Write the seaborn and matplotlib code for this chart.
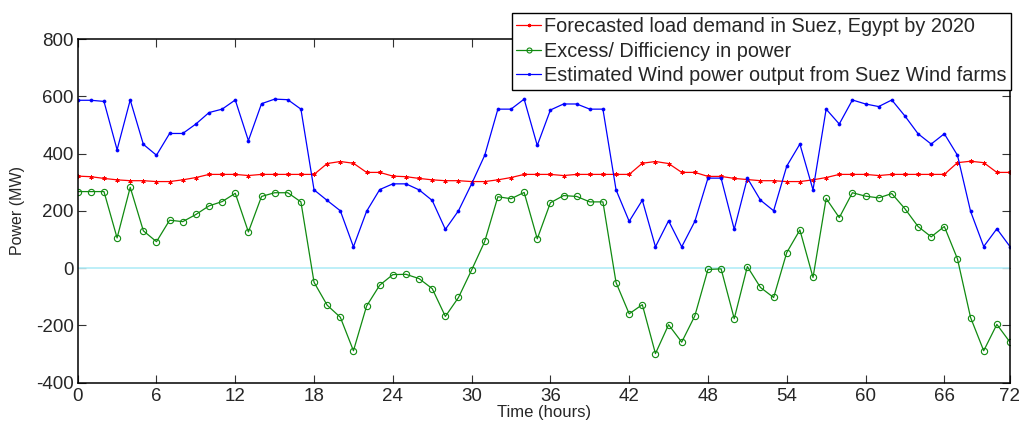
import numpy as np
import pandas as pd
import seaborn as sns
import matplotlib.pyplot as plt

# hourly values (0..71 h)
hours = list(range(72))

load_demand = [321, 319, 313, 308, 305, 305, 302, 302, 308, 316, 327, 327,
               327, 323, 327, 327, 327, 327, 327, 365, 372, 366, 334, 334,
               321, 319, 313, 308, 305, 305, 302, 302, 308, 316, 327, 327,
               327, 323, 327, 327, 327, 327, 327, 366, 372, 365, 334, 334,
               320, 320, 313, 309, 305, 305, 302, 302, 308, 316, 327, 327,
               327, 323, 327, 327, 327, 327, 327, 368, 373, 368, 334, 334]

wind_output = [586, 586, 582, 413, 587, 432, 394, 470, 470, 503, 543, 555,
               587, 445, 574, 590, 588, 555, 273, 236, 200, 74, 198, 274,
               294, 294, 273, 236, 135, 200, 294, 394, 555, 555, 590, 428,
               552, 573, 573, 555, 555, 273, 163, 237, 74, 165, 74, 163,
               314, 314, 135, 314, 237, 200, 356, 433, 273, 555, 503, 587,
               573, 564, 587, 531, 469, 433, 469, 394, 198, 75, 137, 75]

excess = [267, 267, 267, 105, 282, 130, 92, 167, 162, 187, 217, 232,
          261, 126, 250, 263, 263, 231, -50, -130, -172, -289, -133, -60,
          -23, -22, -37, -72, -169, -103, -7, 93, 249, 242, 264, 102,
          228, 253, 250, 231, 231, -51, -160, -128, -299, -198, -259, -167,
          -5, -3, -177, 5, -68, -103, 54, 133, -33, 243, 176, 263,
          251, 245, 260, 207, 145, 109, 145, 32, -173, -289, -197, -259]

tick_pos = [0, 6, 12, 18, 24, 30, 36, 42, 48, 54, 60, 66, 71]
tick_labels = ['0', '6', '12', '18', '24', '30', '36', '42', '48', '54', '60', '66', '72']

labels = ['Forecasted load demand in Suez, Egypt by 2020',
          'Excess/ Difficiency in power',
          'Estimated Wind power output from Suez Wind farms']

df = pd.DataFrame({'hour': hours, 'load': load_demand,
                   'excess': excess, 'wind': wind_output})

sns.set_style('ticks')
plt.rcParams['font.family'] = ['Liberation Sans', 'DejaVu Sans']
plt.rcParams['axes.unicode_minus'] = False

fig = plt.figure(figsize=(10.21, 4.23), dpi=100)
ax = fig.add_axes([0.0761, 0.0957, 0.9131, 0.8121])

ax.axhline(0, color='#b8eef8', lw=1.3, zorder=1)

sns.lineplot(data=df, x='hour', y='load', ax=ax, color='#ff0000', lw=0.9,
             marker=(6, 2, 0), markersize=3, markeredgecolor='#ff0000',
             markeredgewidth=0.7, label=labels[0])
sns.lineplot(data=df, x='hour', y='excess', ax=ax, color='#108a10', lw=0.9,
             marker='o', markersize=4.5, markerfacecolor='none',
             markeredgecolor='#108a10', markeredgewidth=0.8, label=labels[1])
sns.lineplot(data=df, x='hour', y='wind', ax=ax, color='#0000ff', lw=0.9,
             marker='o', markersize=2.2, markeredgecolor='#0000ff',
             markeredgewidth=0.5, label=labels[2])

ax.set_xlim(0, 71)
ax.set_ylim(-400, 800)
ax.set_xticks(tick_pos)
ax.set_xticklabels(tick_labels)
ax.set_yticks(np.arange(-400, 801, 200))

ax.tick_params(direction='in', length=6, width=0.8, top=True, right=True,
               labelsize=13.5, color='#333333')
ax.tick_params(axis='y', pad=3)
ax.tick_params(axis='x', pad=4)
for s in ax.spines.values():
    s.set_linewidth(1.1)
    s.set_color('black')

ax.set_xlabel('Time (hours)', fontsize=12, labelpad=0)
ax.set_ylabel('Power (MW)', fontsize=11.5, labelpad=8)

ax.legend(loc='upper right', bbox_to_anchor=(0.990, 0.970),
          bbox_transform=fig.transFigure, borderaxespad=0, fontsize=14.3,
          frameon=True, fancybox=False, edgecolor='black', framealpha=1,
          handlelength=1.25, handletextpad=0.15, labelspacing=0.28,
          borderpad=0.22, markerscale=0.8)
ax.get_legend().get_frame().set_linewidth(1.0)

fig.savefig('out.png', dpi=100)
